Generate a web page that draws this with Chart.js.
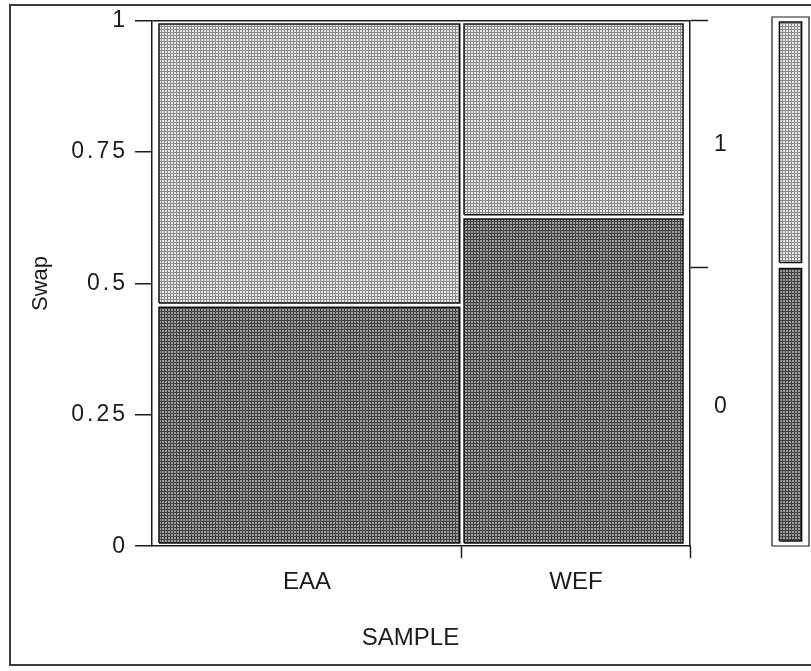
<!DOCTYPE html>
<html>
<head>
<meta charset="utf-8">
<title>Swap by SAMPLE</title>
<script src="https://cdn.jsdelivr.net/npm/chart.js@4.4.1/dist/chart.umd.min.js"></script>
<style>
  html, body { margin: 0; padding: 0; background: #fff; overflow: hidden; }
  #wrap { position: relative; width: 811px; height: 671px; overflow: hidden; }
  #frame { position: absolute; left: 9px; top: 4px; width: 830px; height: 662px;
           border: 2px solid #3a3a3a; box-sizing: border-box; }
  .box { position: absolute; top: 0; height: 671px; }
</style>
</head>
<body>
<div id="wrap">
  <div id="frame"></div>
  <div class="box" style="left:0;width:811px"><canvas id="main"></canvas></div>
  <div class="box" style="left:765px;width:46px"><canvas id="side"></canvas></div>
</div>
<script>
// ---- data ----
const categories = ['EAA', 'WEF'];
const sampleShare = [0.576, 0.424];      // share of observations in each sample (column widths)
const swapLevels = ['0', '1'];
const swapZeroShare = [0.459, 0.627];    // proportion with Swap = 0 inside each sample
const yTickValues = [0, 0.25, 0.5, 0.75, 1];
const yTickLabels = ['0', '0.25', '0.5', '0.75', '1'];

// ---- styling ----
const FONT = '"Liberation Sans", Arial, Helvetica, sans-serif';
const INK = '#1c1c1c';
const NONE = 'rgba(0,0,0,0)';
const EDGE_X = 0.013, HALF_GAP_X = 0.004;   // spacing between tiles and the frame (axis units)
const EDGE_Y = 0.006, HALF_GAP_Y = 0.004;

// ---- derived quantities ----
const colEdges = [0];
sampleShare.forEach((w, i) => colEdges.push(colEdges[i] + w));
const overallZero = sampleShare.reduce((s, w, i) => s + w * swapZeroShare[i], 0);

// halftone-like fills
function makePattern(lightTone, darkTone) {
  const c = document.createElement('canvas');
  c.width = 3; c.height = 3;
  const g = c.getContext('2d');
  g.fillStyle = darkTone; g.fillRect(0, 0, 3, 3);
  g.fillStyle = lightTone; g.fillRect(0, 0, 2, 2);
  return g.createPattern(c, 'repeat');
}
const lightFill = makePattern('#e8e8e8', '#8c8c8c');   // Swap = 1
const darkFill = makePattern('#9c9c9c', '#424242');    // Swap = 0
const levelFill = { '0': darkFill, '1': lightFill };

function rectPath(x0, y0, x1, y1) {
  return [{x: x0, y: y0}, {x: x1, y: y0}, {x: x1, y: y1}, {x: x0, y: y1}, {x: x0, y: y0}];
}
function tile(label, pts, fill) {
  return { label, data: pts, fill: 'shape', backgroundColor: fill, borderColor: '#111',
           borderWidth: 1.5, pointRadius: 0, tension: 0 };
}

// mosaic tiles
const tiles = [];
categories.forEach((cat, i) => {
  const x0 = colEdges[i] + (i === 0 ? EDGE_X : HALF_GAP_X);
  const x1 = colEdges[i + 1] - (i === categories.length - 1 ? EDGE_X : HALF_GAP_X);
  const p = swapZeroShare[i];
  tiles.push(tile(cat + ' / ' + swapLevels[0], rectPath(x0, EDGE_Y, x1, p - HALF_GAP_Y), levelFill['0']));
  tiles.push(tile(cat + ' / ' + swapLevels[1], rectPath(x0, p + HALF_GAP_Y, x1, 1 - EDGE_Y), levelFill['1']));
});

// bottom axis: labels centred in columns, tick marks at column boundaries
const xTicks = [];
categories.forEach((c, i) => {
  xTicks.push({ value: (colEdges[i] + colEdges[i + 1]) / 2, label: c, mark: false });
  xTicks.push({ value: colEdges[i + 1], label: '', mark: true });
});
// right axis: level labels centred in the overall split, marks at boundaries
const y2Ticks = [
  { value: overallZero / 2, label: swapLevels[0], mark: false },
  { value: overallZero, label: '', mark: true },
  { value: (overallZero + 1) / 2, label: swapLevels[1], mark: false },
  { value: 1, label: '', mark: true }
];

// linear scale whose tick labels are drawn with extra letter spacing
class SpacedLinearScale extends Chart.LinearScale {
  static id = 'spacedLinear';
  static defaults = Chart.LinearScale.defaults;
  drawLabels(area) {
    const ctx = this.ctx;
    ctx.save();
    ctx.letterSpacing = '3px';
    super.drawLabels(area);
    ctx.restore();
  }
}
Chart.register(SpacedLinearScale);

const tickFont = { family: FONT, size: 23 };
const catFont = { family: FONT, size: 24 };

new Chart(document.getElementById('main'), {
  type: 'line',
  data: { datasets: tiles },
  options: {
    responsive: true, maintainAspectRatio: false, animation: false,
    events: [],
    layout: { padding: { left: 10, top: 17, right: 0, bottom: 0 } },
    plugins: {
      legend: { display: false },
      tooltip: { enabled: false },
      title: { display: true, text: 'SAMPLE', position: 'bottom', color: INK,
               font: { family: FONT, size: 24, weight: 'normal' },
               padding: { top: 0, bottom: 18 } }
    },
    scales: {
      x: {
        type: 'linear', position: 'bottom', min: 0, max: 1,
        afterBuildTicks: s => { s.ticks = xTicks.map(t => ({ value: t.value })); },
        afterFit: s => { s.height = 78; },
        ticks: { autoSkip: false, maxRotation: 0, padding: 10, color: INK, font: catFont,
                 callback: (v, i) => xTicks[i].label },
        grid: { drawOnChartArea: false, tickLength: 12, tickWidth: 1.5,
                tickColor: ctx => (xTicks[ctx.index] && xTicks[ctx.index].mark) ? INK : NONE },
        border: { color: INK, width: 1.5 }
      },
      y: {
        type: 'spacedLinear', position: 'left', min: 0, max: 1,
        afterBuildTicks: s => { s.ticks = yTickValues.map(v => ({ value: v })); },
        afterFit: s => { s.width = 142; },
        ticks: { padding: 7, color: INK, font: tickFont, callback: (v, i) => yTickLabels[i] },
        grid: { drawOnChartArea: true, lineWidth: 1.5,
                color: ctx => (ctx.tick && ctx.tick.value === 1) ? INK : NONE,
                tickLength: 17, tickWidth: 1.5, tickColor: INK },
        border: { color: INK, width: 1.5 },
        title: { display: true, text: 'Swap', color: INK,
                 font: { family: FONT, size: 22 }, padding: { top: 18, bottom: 0 } }
      },
      y2: {
        type: 'linear', position: 'right', min: 0, max: 1,
        afterBuildTicks: s => { s.ticks = y2Ticks.map(t => ({ value: t.value })); },
        afterFit: s => { s.width = 121; },
        ticks: { padding: 6, color: INK, font: tickFont, callback: (v, i) => y2Ticks[i].label },
        grid: { drawOnChartArea: false, tickLength: 18, tickWidth: 1.5,
                tickColor: ctx => (y2Ticks[ctx.index] && y2Ticks[ctx.index].mark) ? INK : NONE },
        border: { color: INK, width: 1.5 }
      }
    }
  }
});

// marginal distribution of Swap
const SIDE_EDGE_Y = 0.0095, SIDE_HALF_GAP = 0.0057;
new Chart(document.getElementById('side'), {
  type: 'line',
  data: {
    datasets: [
      { label: 'frame', data: rectPath(0, 0, 1, 1), fill: false, borderColor: INK,
        borderWidth: 1.2, pointRadius: 0, tension: 0, clip: false },
      tile('Swap ' + swapLevels[1], rectPath(0.2, overallZero + SIDE_HALF_GAP, 0.8, 1 - SIDE_EDGE_Y), levelFill['1']),
      tile('Swap ' + swapLevels[0], rectPath(0.2, SIDE_EDGE_Y, 0.8, overallZero - SIDE_HALF_GAP), levelFill['0'])
    ]
  },
  options: {
    responsive: true, maintainAspectRatio: false, animation: false,
    events: [],
    layout: { padding: { left: 7, right: 2, top: 17, bottom: 125 } },
    plugins: { legend: { display: false }, tooltip: { enabled: false } },
    scales: {
      x: { type: 'linear', min: 0, max: 1, display: false },
      y: { type: 'linear', min: 0, max: 1, display: false }
    }
  }
});
</script>
</body>
</html>
